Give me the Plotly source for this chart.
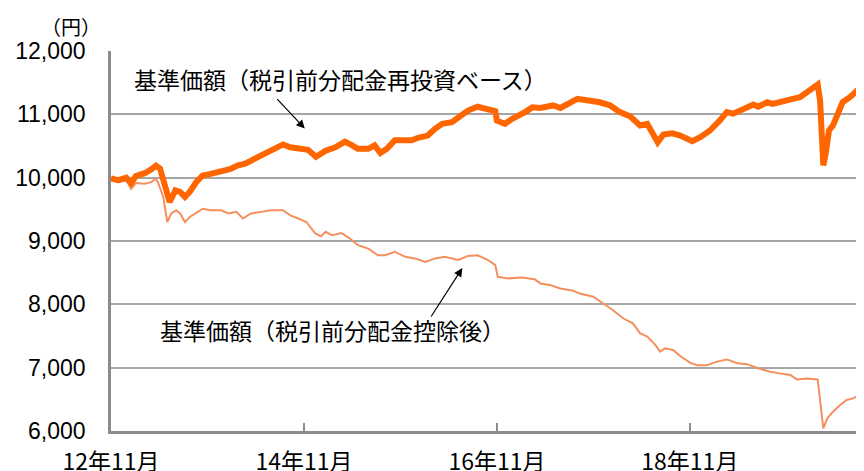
import plotly.graph_objects as go

# months since 2012-11 (x) and NAV values (y)
reinvest_month = [0, 0.9, 1.9, 2.5, 3.1, 4.2, 5.0, 5.6, 6.1, 6.5, 7.0, 7.3, 8.0, 8.6, 9.2, 9.8,
                  10.6, 11.4, 12.4, 13.3, 14.2, 14.9, 15.8, 16.7, 17.9, 19.2, 20.4, 21.4, 22.3,
                  23.6, 24.5, 25.5, 26.1, 26.7, 27.9, 29.1, 30.0, 30.7, 32.0, 32.8, 33.5, 34.3,
                  35.3, 36.6, 37.4, 38.2, 39.4, 40.3, 41.2, 42.4, 43.4, 44.4, 45.6, 46.9, 47.8,
                  48.0, 49.0, 49.9, 50.6, 51.5, 52.4, 53.4, 55.0, 55.9, 58.0, 59.6, 60.8, 62.1,
                  63.3, 64.6, 65.8, 66.7, 67.4, 68.0, 68.7, 69.8, 70.8, 72.3, 73.3, 74.5, 75.7,
                  76.6, 77.4, 78.6, 79.9, 80.5, 81.6, 82.3, 83.6, 84.8, 85.7, 86.6, 87.3, 87.9,
                  88.2, 88.6, 88.9, 89.3, 89.8, 90.4, 91.0, 91.9, 92.8, 93.5]
reinvest_value = [9990, 9960, 10000, 9915, 10025, 10070, 10130, 10190, 10145, 9960, 9695, 9615,
                  9800, 9775, 9695, 9775, 9930, 10035, 10060, 10090, 10115, 10140, 10195, 10220,
                  10300, 10380, 10455, 10525, 10480, 10470, 10440, 10330, 10380, 10425, 10480,
                  10570, 10510, 10455, 10455, 10510, 10390, 10455, 10590, 10590, 10590, 10630,
                  10665, 10770, 10850, 10875, 10955, 11060, 11120, 11085, 11050, 10900, 10850,
                  10930, 10965, 11035, 11110, 11100, 11140, 11100, 11245, 11215, 11190, 11140,
                  11035, 10965, 10825, 10850, 10690, 10560, 10680, 10700, 10665, 10575, 10640,
                  10745, 10900, 11035, 11010, 11085, 11155, 11120, 11190, 11165, 11215, 11245,
                  11270, 11350, 11415, 11470, 11215, 10195, 10380, 10745, 10825, 11010, 11190,
                  11270, 11375, 11455]

exdiv_month = [0, 0.9, 1.9, 2.5, 3.1, 4.2, 5.0, 5.6, 5.9, 6.5, 7.0, 7.5, 8.1, 8.6, 9.2, 9.8,
               10.6, 11.4, 12.4, 13.7, 14.6, 15.6, 16.4, 17.4, 18.7, 19.9, 21.4, 22.3, 23.3,
               24.3, 25.4, 26.1, 26.7, 27.5, 28.7, 29.7, 30.7, 32.0, 33.2, 34.1, 35.3, 36.6,
               37.8, 39.1, 40.3, 41.5, 43.2, 44.4, 45.6, 46.9, 47.8, 48.1, 49.4, 51.1, 52.7,
               53.4, 54.6, 55.9, 57.5, 58.3, 60.0, 61.2, 62.4, 63.7, 64.9, 65.8, 66.7, 67.7,
               68.3, 68.9, 69.9, 70.8, 72.0, 72.9, 74.1, 75.4, 76.6, 77.9, 79.1, 80.5, 82.0,
               83.2, 84.5, 85.3, 86.6, 87.9, 88.3, 88.6, 89.1, 89.8, 90.7, 91.5, 92.3, 93.2, 93.5]
exdiv_value = [9970, 9930, 9960, 9825, 9915, 9905, 9930, 9985, 9905, 9695, 9300, 9435, 9485,
               9435, 9300, 9380, 9445, 9510, 9485, 9485, 9435, 9460, 9355, 9435, 9460, 9485,
               9485, 9405, 9355, 9300, 9120, 9075, 9145, 9090, 9125, 9040, 8935, 8880, 8775,
               8775, 8830, 8750, 8725, 8670, 8725, 8750, 8700, 8765, 8775, 8700, 8620, 8435,
               8410, 8425, 8395, 8330, 8305, 8250, 8215, 8170, 8120, 8015, 7910, 7780, 7700,
               7545, 7490, 7360, 7255, 7305, 7280, 7185, 7080, 7040, 7040, 7095, 7130, 7070,
               7055, 6990, 6935, 6910, 6885, 6815, 6830, 6815, 6330, 6040, 6200, 6305, 6410,
               6490, 6515, 6570, 6530]

tick_months = [0, 24, 48, 72]
tick_labels = ["12年11月", "14年11月", "16年11月", "18年11月"]
y_ticks = [6000, 7000, 8000, 9000, 10000, 11000, 12000]

label_reinvest = "基準価額（税引前分配金再投資ベース）"
label_exdiv = "基準価額（税引前分配金控除後）"
unit_label = "（円）"

fig = go.Figure()
fig.add_trace(go.Scatter(x=exdiv_month, y=exdiv_value, mode="lines",
                         line=dict(color="#F3905E", width=2), hoverinfo="skip"))
fig.add_trace(go.Scatter(x=reinvest_month, y=reinvest_value, mode="lines",
                         line=dict(color="#FF6600", width=6), hoverinfo="skip"))

jp = "Noto Sans CJK JP"
fig.add_annotation(x=24.1, y=10776, ax=20.5, ay=11264, xref="x", yref="y", axref="x", ayref="y",
                   text="", showarrow=True, arrowhead=2, arrowsize=1.4, arrowwidth=1.2, arrowcolor="#000")
fig.add_annotation(x=43.7, y=8572, ax=39.7, ay=7784, xref="x", yref="y", axref="x", ayref="y",
                   text="", showarrow=True, arrowhead=2, arrowsize=1.4, arrowwidth=1.2, arrowcolor="#000")
fig.add_annotation(x=2.6, y=11564, xref="x", yref="y", text=label_reinvest, showarrow=False,
                   xanchor="left", yanchor="middle", font=dict(family=jp, size=23, color="#000"))
fig.add_annotation(x=5.8, y=7595, xref="x", yref="y", text=label_exdiv, showarrow=False,
                   xanchor="left", yanchor="middle", font=dict(family=jp, size=23, color="#000"))
fig.add_annotation(x=-0.053, y=1.064, xref="paper", yref="paper", text=unit_label, showarrow=False,
                   xanchor="center", yanchor="middle", font=dict(family=jp, size=20, color="#000"))

# the page body adds an 8px offset, so the figure is sized/margined to compensate
fig.update_layout(
    width=856, height=463,
    margin=dict(l=103, r=0, t=43, b=40, autoexpand=False),
    paper_bgcolor="white", plot_bgcolor="white",
    showlegend=False,
    font=dict(family="Liberation Sans, Arial", color="#000"),
)

fig.update_xaxes(range=[0, 93.66], tickvals=tick_months, ticktext=tick_labels,
                 ticks="inside", ticklen=8, tickcolor="#8C8C8C", tickwidth=1.5,
                 showline=True, linecolor="#8C8C8C", linewidth=2.5, showgrid=False,
                 zeroline=False, tickfont=dict(family=jp, size=23, color="#000"),
                 ticklabelstandoff=9, automargin=False)
fig.update_yaxes(range=[6000, 12000], tickvals=y_ticks, tickformat=",d",
                 showline=True, linecolor="#8C8C8C", linewidth=2.5,
                 showgrid=True, gridcolor="#A6A6A6", gridwidth=1.5, zeroline=False,
                 ticks="", tickfont=dict(family="Liberation Sans, Arial", size=23, color="#000"),
                 ticklabelstandoff=18, automargin=False)

fig.write_html("out.html")
